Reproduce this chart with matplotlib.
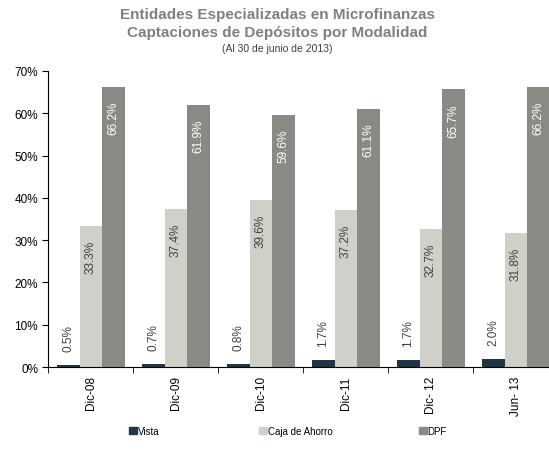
""" Captaciones de depositos por modalidad, EEM, al 30 de junio de 2013.
"""

import numpy as np
from matplotlib import pyplot as plt
from matplotlib.patches import Patch

# ------------------------------------------------------------------------------
# Data.
# ------------------------------------------------------------------------------

periods = ["Dic-08", "Dic-09", "Dic-10", "Dic-11", "Dic- 12", "Jun- 13"]
series_names = ["Vista", "Caja de Ahorro", "DPF"]
vista = [0.5, 0.7, 0.8, 1.7, 1.7, 2.0]
caja_ahorro = [33.3, 37.4, 39.6, 37.2, 32.7, 31.8]
dpf = [66.2, 61.9, 59.6, 61.1, 65.7, 66.2]

# ------------------------------------------------------------------------------
# Plot.
# ------------------------------------------------------------------------------

plt.rcParams['font.family'] = ['Liberation Sans', 'DejaVu Sans']

colors = ["#1e3646", "#cfd0c8", "#8a8a85"]
text_gray = "#808080"
width = 0.265

fig = plt.figure(figsize=(5.49, 4.52), dpi=100)
ax = fig.add_axes([0.0883, 0.1858, 0.929, 0.655])

x = np.arange(len(periods))
values = [vista, caja_ahorro, dpf]
for i, (vals, color) in enumerate(zip(values, colors)):
    bars = ax.bar(x + (i - 1) * width, vals, width, color=color, linewidth=0)
    for bar, v in zip(bars, vals):
        cx = bar.get_x() + bar.get_width() / 2
        label = f"{v:.1f}%"
        if i == 0:
            ax.annotate(label, (cx, v), xytext=(0, 10), textcoords="offset points",
                        rotation=90, ha="center", va="bottom", fontsize=8.5, color="#404040")
        elif i == 1:
            ax.annotate(label, (cx, v), xytext=(0, -10), textcoords="offset points",
                        rotation=90, ha="center", va="top", fontsize=8.5, color="#404040")
        else:
            ax.annotate(label, (cx, v), xytext=(0, -10), textcoords="offset points",
                        rotation=90, ha="center", va="top", fontsize=8.5, color="white")

# Axes formatting.
ax.set_xlim(-0.5, 5.5)
ax.set_ylim(0, 70)
ax.set_yticks(np.arange(0, 71, 10))
ax.set_yticklabels([f"{t}%" for t in range(0, 71, 10)], fontsize=8.5)
ax.set_xticks(x)
ax.set_xticklabels(periods, rotation=90, fontsize=8.5)
ax.set_xticks(np.arange(-0.5, 6, 1), minor=True)
ax.tick_params(axis="x", which="major", length=0, pad=6)
ax.tick_params(axis="x", which="minor", length=4)
ax.tick_params(axis="y", length=4)
for side in ["top", "right"]:
    ax.spines[side].set_visible(False)

# Titles.
fig.text(0.505, 0.966, "Entidades Especializadas en Microfinanzas", ha="center",
         va="center", fontsize=11, fontweight="bold", color=text_gray)
fig.text(0.505, 0.928, "Captaciones de Depósitos por Modalidad", ha="center",
         va="center", fontsize=11, fontweight="bold", color=text_gray)
fig.text(0.505, 0.891, "(Al 30 de junio de 2013)", ha="center", va="center",
         fontsize=7.5, color="#404040")

# Legend, one entry at a time to keep the spacing.
legend_x = [0.235, 0.472, 0.763]
for name, color, lx in zip(series_names, colors, legend_x):
    lg = fig.legend(handles=[Patch(color=color, label=name)], loc="center left",
                    bbox_to_anchor=(lx, 0.044), frameon=False, fontsize=7,
                    handlelength=0.8, handleheight=0.8, handletextpad=0.1,
                    borderpad=0, borderaxespad=0)

plt.savefig("out.png", dpi=100)
